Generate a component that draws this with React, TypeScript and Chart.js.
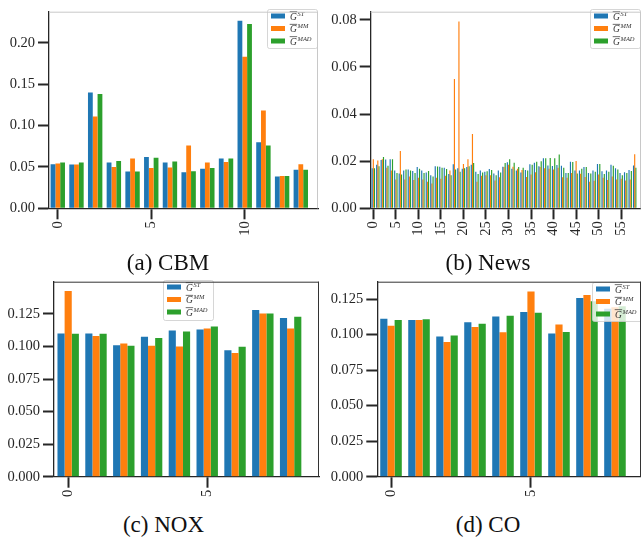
import React, { useEffect, useRef } from 'react';
import { Chart, registerables } from 'chart.js';

Chart.register(...registerables);

// ---------- data ----------
const seriesNames = ['ST', 'MM', 'MAD'];
const seriesColors = ['#1f77b4', '#ff7f0e', '#2ca02c'];

const cbmCategories = [0, 1, 2, 3, 4, 5, 6, 7, 8, 9, 10, 11, 12, 13];
const cbmST = [0.0533, 0.053, 0.14, 0.0553, 0.0444, 0.0619, 0.0553, 0.0436, 0.0479, 0.0603, 0.2265, 0.0798, 0.0385, 0.0467];
const cbmMM = [0.054, 0.053, 0.111, 0.05, 0.0603, 0.0486, 0.0494, 0.0759, 0.0553, 0.056, 0.183, 0.118, 0.0389, 0.0533];
const cbmMAD = [0.0553, 0.0553, 0.138, 0.0572, 0.0444, 0.0611, 0.0564, 0.0448, 0.0486, 0.0603, 0.2226, 0.0759, 0.0389, 0.0467];
const cbmXTicks = [0, 5, 10];
const cbmYTicks = [0, 0.05, 0.1, 0.15, 0.2];

const newsCategories = [
  0, 1, 2, 3, 4, 5, 6, 7, 8, 9, 10, 11, 12, 13, 14, 15, 16, 17, 18, 19,
  20, 21, 22, 23, 24, 25, 26, 27, 28, 29, 30, 31, 32, 33, 34, 35, 36, 37, 38, 39,
  40, 41, 42, 43, 44, 45, 46, 47, 48, 49, 50, 51, 52, 53, 54, 55, 56, 57, 58,
];
const newsST = [
  0.017, 0.0185, 0.0205, 0.0207, 0.0208, 0.016, 0.0148, 0.016, 0.0165, 0.0158,
  0.0175, 0.016, 0.0152, 0.014, 0.0178, 0.0176, 0.0172, 0.0145, 0.0187, 0.017,
  0.0168, 0.0175, 0.0185, 0.0155, 0.016, 0.0155, 0.0167, 0.0148, 0.016, 0.0176,
  0.0195, 0.0168, 0.016, 0.0152, 0.0163, 0.0187, 0.0193, 0.0178, 0.0212, 0.0182,
  0.0179, 0.0184, 0.018, 0.015, 0.0198, 0.016, 0.016, 0.0175, 0.015, 0.016,
  0.0188, 0.0157, 0.016, 0.0185, 0.017, 0.015, 0.0153, 0.0162, 0.0182,
];
const newsMM = [
  0.0208, 0.0203, 0.0208, 0.0172, 0.016, 0.0122, 0.0243, 0.0122, 0.0135, 0.012,
  0.013, 0.0122, 0.0113, 0.0105, 0.013, 0.0125, 0.0138, 0.016, 0.0548, 0.0792,
  0.0188, 0.0208, 0.0315, 0.0113, 0.0138, 0.014, 0.014, 0.0118, 0.0132, 0.0175,
  0.0185, 0.0176, 0.0168, 0.0162, 0.0133, 0.0143, 0.0153, 0.0175, 0.017, 0.0168,
  0.0165, 0.0172, 0.0132, 0.013, 0.015, 0.0201, 0.0147, 0.0133, 0.0113, 0.0117,
  0.0143, 0.013, 0.012, 0.0135, 0.0122, 0.0125, 0.0118, 0.0122, 0.0229,
];
const newsMAD = [
  0.017, 0.0178, 0.0218, 0.018, 0.0208, 0.015, 0.0143, 0.0165, 0.016, 0.015,
  0.0168, 0.015, 0.0158, 0.0135, 0.0177, 0.0172, 0.0167, 0.014, 0.0165, 0.0155,
  0.017, 0.0178, 0.0192, 0.0145, 0.0152, 0.0157, 0.0162, 0.014, 0.0152, 0.0192,
  0.0208, 0.0193, 0.0175, 0.0172, 0.016, 0.0185, 0.0198, 0.02, 0.0212, 0.0213,
  0.0212, 0.0228, 0.0172, 0.015, 0.0196, 0.0148, 0.0168, 0.0175, 0.0148, 0.0155,
  0.0188, 0.0145, 0.0155, 0.018, 0.0165, 0.014, 0.015, 0.0158, 0.0172,
];
const newsXTicks = [0, 5, 10, 15, 20, 25, 30, 35, 40, 45, 50, 55];
const newsYTicks = [0, 0.02, 0.04, 0.06, 0.08];

const noxCategories = [0, 1, 2, 3, 4, 5, 6, 7, 8];
const noxST = [0.11, 0.11, 0.101, 0.1075, 0.1123, 0.113, 0.097, 0.128, 0.1218];
const noxMM = [0.1425, 0.108, 0.1023, 0.1005, 0.1, 0.1138, 0.095, 0.1253, 0.1138];
const noxMAD = [0.1098, 0.1098, 0.1005, 0.1065, 0.1115, 0.1153, 0.0998, 0.1253, 0.1228];
const noxXTicks = [0, 5];
const noxYTicks = [0, 0.025, 0.05, 0.075, 0.1, 0.125];

const coCategories = [0, 1, 2, 3, 4, 5, 6, 7, 8];
const coST = [0.1112, 0.1103, 0.0986, 0.1087, 0.1128, 0.1158, 0.1007, 0.1257, 0.1181];
const coMM = [0.1062, 0.1103, 0.0947, 0.1053, 0.1016, 0.1303, 0.1071, 0.1278, 0.1193];
const coMAD = [0.1103, 0.1108, 0.0993, 0.1076, 0.1133, 0.1154, 0.1018, 0.1235, 0.12];
const coXTicks = [0, 5];
const coYTicks = [0, 0.025, 0.05, 0.075, 0.1, 0.125];

// ---------- plugins ----------
const framePlugin = {
  id: 'frameLines',
  afterDraw(chart: any, _args: any, opts: any) {
    const { ctx, chartArea } = chart;
    ctx.save();
    ctx.strokeStyle = opts.color;
    ctx.lineWidth = 1;
    ctx.beginPath();
    ctx.moveTo(chartArea.left, chartArea.top + 0.5);
    ctx.lineTo(chartArea.right, chartArea.top + 0.5);
    ctx.moveTo(chartArea.right - 0.5, chartArea.top);
    ctx.lineTo(chartArea.right - 0.5, chartArea.bottom);
    ctx.stroke();
    ctx.restore();
  },
};

const mathLegendPlugin = {
  id: 'mathLegend',
  afterDatasetsDraw(chart: any, _args: any, opts: any) {
    const { ctx } = chart;
    const { x, y, w, h } = opts.box;
    ctx.save();
    ctx.beginPath();
    ctx.roundRect(x + 0.5, y + 0.5, w, h, 2);
    ctx.fillStyle = 'rgba(255,255,255,0.8)';
    ctx.fill();
    ctx.strokeStyle = '#cccccc';
    ctx.lineWidth = 0.8;
    ctx.stroke();
    chart.data.datasets.forEach((ds: any, i: number) => {
      const cy = y + 7 + i * 12.5;
      ctx.fillStyle = ds.backgroundColor;
      ctx.fillRect(x + 4, cy - 2.5, 14, 5);
      ctx.fillStyle = '#333';
      ctx.textBaseline = 'alphabetic';
      ctx.font = 'italic 9.5px "Liberation Serif"';
      const tx = x + 23;
      ctx.fillText('G', tx, cy + 3.5);
      const gw = ctx.measureText('G').width;
      ctx.fillRect(tx - 0.3, cy - 4.6, gw + 0.6, 0.7);
      ctx.font = 'italic 6.5px "Liberation Serif"';
      ctx.fillText(ds.label, tx + gw + 0.6, cy - 0.5);
    });
    ctx.restore();
  },
};

// ---------- panel ----------
type PanelProps = {
  categories: number[];
  series: number[][];
  xTicks: number[];
  yTicks: number[];
  yDecimals: number;
  xMin: number;
  xMax: number;
  yMax: number;
  left: number;
  top: number;
  width: number;
  height: number;
  yAxisWidth: number;
  xAxisHeight: number;
  padTop: number;
  padRight: number;
  legendBox: { x: number; y: number; w: number; h: number };
  frameColor: string;
};

const tickFont = { family: '"Liberation Serif", serif', size: 14.5 };
const axisColor = '#262626';

function Panel(p: PanelProps) {
  const ref = useRef<HTMLCanvasElement | null>(null);
  useEffect(() => {
    if (!ref.current) return;
    const chart = new Chart(ref.current, {
      type: 'bar',
      data: {
        datasets: p.series.map((vals, i) => ({
          label: seriesNames[i],
          data: p.categories.map((c, j) => ({ x: c, y: vals[j] })),
          backgroundColor: seriesColors[i],
          borderWidth: 0,
          categoryPercentage: 0.77,
          barPercentage: 1,
        })),
      },
      options: {
        responsive: false,
        animation: false,
        events: [],
        layout: { padding: { top: p.padTop, right: p.padRight, left: 0, bottom: 0 } },
        plugins: {
          legend: { display: false },
          tooltip: { enabled: false },
          frameLines: { color: p.frameColor },
          mathLegend: { box: p.legendBox },
        } as any,
        scales: {
          x: {
            type: 'linear',
            min: p.xMin,
            max: p.xMax,
            offset: false,
            grid: {
              display: true,
              offset: false,
              drawOnChartArea: false,
              drawTicks: true,
              tickLength: 11,
              tickWidth: 2,
              tickColor: axisColor,
            },
            border: { display: true, color: axisColor, width: 1.3 },
            ticks: {
              autoSkip: false,
              minRotation: 90,
              maxRotation: 90,
              padding: 2,
              color: axisColor,
              font: tickFont,
              callback: (v: any) => String(v),
            },
            afterBuildTicks: (s: any) => {
              s.ticks = p.xTicks.map((v) => ({ value: v }));
            },
            afterFit: (s: any) => {
              s.height = p.xAxisHeight;
            },
          },
          y: {
            type: 'linear',
            min: 0,
            max: p.yMax,
            grid: {
              display: true,
              drawOnChartArea: false,
              drawTicks: true,
              tickLength: 11,
              tickWidth: 2,
              tickColor: axisColor,
            },
            border: { display: true, color: axisColor, width: 1.3 },
            ticks: {
              autoSkip: false,
              padding: 3,
              color: axisColor,
              font: tickFont,
              callback: (v: any) => Number(v).toFixed(p.yDecimals),
            },
            afterBuildTicks: (s: any) => {
              s.ticks = p.yTicks.map((v) => ({ value: v }));
            },
            afterFit: (s: any) => {
              s.width = p.yAxisWidth;
            },
          },
        },
      } as any,
      plugins: [framePlugin, mathLegendPlugin],
    });
    return () => chart.destroy();
  }, []);
  return (
    <canvas
      ref={ref}
      width={p.width}
      height={p.height}
      style={{ position: 'absolute', left: p.left, top: p.top, width: p.width, height: p.height }}
    />
  );
}

function Caption({ text, cx, cy }: { text: string; cx: number; cy: number }) {
  return (
    <div
      style={{
        position: 'absolute',
        left: cx - 100,
        top: cy - 14,
        width: 200,
        height: 28,
        lineHeight: '28px',
        textAlign: 'center',
        fontFamily: '"Liberation Serif", serif',
        fontSize: 23,
        color: '#111',
        whiteSpace: 'nowrap',
      }}
    >
      {text}
    </div>
  );
}

export default function App() {
  useEffect(() => {
    document.body.style.margin = '0';
    document.body.style.background = '#fff';
  }, []);
  return (
    <div style={{ position: 'fixed', left: 0, top: 0, width: 641, height: 539, background: '#fff', overflow: 'hidden' }}>
      <Panel
        categories={cbmCategories}
        series={[cbmST, cbmMM, cbmMAD]}
        xTicks={cbmXTicks}
        yTicks={cbmYTicks}
        yDecimals={2}
        xMin={-0.47}
        xMax={13.92}
        yMax={0.2375}
        left={0}
        top={0}
        width={320}
        height={240}
        yAxisWidth={49}
        xAxisHeight={31.7}
        padTop={5}
        padRight={2}
        legendBox={{ x: 267, y: 9, w: 50, h: 39 }}
        frameColor="#c8c8c8"
      />
      <Panel
        categories={newsCategories}
        series={[newsST, newsMM, newsMAD]}
        xTicks={newsXTicks}
        yTicks={newsYTicks}
        yDecimals={2}
        xMin={-0.58}
        xMax={59.4}
        yMax={0.0834}
        left={320}
        top={0}
        width={321}
        height={240}
        yAxisWidth={50.7}
        xAxisHeight={31.7}
        padTop={5}
        padRight={0}
        legendBox={{ x: 270, y: 9, w: 50, h: 39 }}
        frameColor="#c8c8c8"
      />
      <Panel
        categories={noxCategories}
        series={[noxST, noxMM, noxMAD]}
        xTicks={noxXTicks}
        yTicks={noxYTicks}
        yDecimals={3}
        xMin={-0.51}
        xMax={9.02}
        yMax={0.1497}
        left={0}
        top={270}
        width={320}
        height={240}
        yAxisWidth={54}
        xAxisHeight={33.3}
        padTop={6.7}
        padRight={1}
        legendBox={{ x: 163, y: 10, w: 50, h: 40 }}
        frameColor="#333333"
      />
      <Panel
        categories={coCategories}
        series={[coST, coMM, coMAD]}
        xTicks={coXTicks}
        yTicks={coYTicks}
        yDecimals={3}
        xMin={-0.49}
        xMax={8.93}
        yMax={0.1372}
        left={320}
        top={270}
        width={321}
        height={240}
        yAxisWidth={57.3}
        xAxisHeight={33.3}
        padTop={7.3}
        padRight={0}
        legendBox={{ x: 272, y: 12, w: 50, h: 39 }}
        frameColor="#333333"
      />
      <Caption text="(a) CBM" cx={168} cy={262.5} />
      <Caption text="(b) News" cx={488} cy={262.5} />
      <Caption text="(c) NOX" cx={163.5} cy={525} />
      <Caption text="(d) CO" cx={488} cy={525} />
    </div>
  );
}
